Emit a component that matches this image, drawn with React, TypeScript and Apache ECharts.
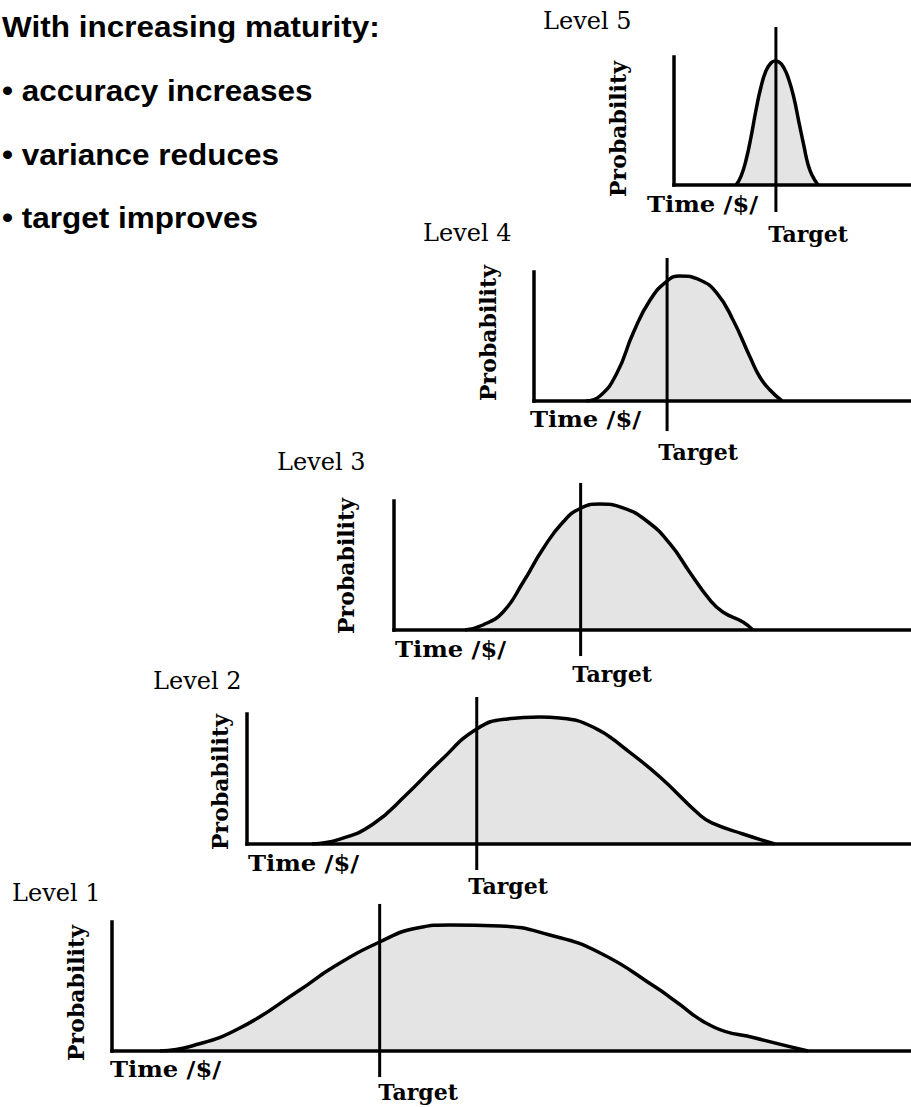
import React, { useEffect, useRef } from 'react';
import * as echarts from 'echarts';

// ---- DATA (x: time, 0-100 of each panel's axis; y: probability, 0-100 of axis height) ----
const levelNames = ['Level 1', 'Level 2', 'Level 3', 'Level 4', 'Level 5'];

const level1Time = [6.0, 10.0, 16.0, 23.5, 27.7, 33.5, 38.2, 42.3, 48.6, 54.8, 61.1, 68.2, 70.3, 75.3, 80.5, 87.1];
const level1Prob = [0, 3.9, 17.8, 47.3, 65.1, 84.5, 95.3, 97.7, 96.9, 89.9, 76.0, 48.8, 39.5, 18.6, 10.1, 0];

const level2Time = [9.8, 14.0, 19.0, 24.1, 29.1, 34.6, 39.2, 44.1, 47.1, 52.1, 57.2, 62.2, 68.2, 70.0, 74.7, 79.5];
const level2Prob = [0, 3.8, 15.4, 38.5, 63.8, 88.5, 96.2, 97.7, 96.9, 90.0, 72.3, 51.5, 22.3, 16.2, 7.7, 0];

const level3Time = [13.7, 17.2, 21.1, 25.0, 28.8, 32.7, 36.2, 39.8, 44.3, 48.9, 53.4, 57.3, 61.1, 63.6, 67.5, 69.4];
const level3Prob = [0, 3.9, 14.0, 37.2, 62.8, 83.7, 94.6, 97.7, 94.6, 84.5, 66.7, 44.2, 23.3, 14.0, 6.2, 0];

const level4Time = [13.8, 17.5, 22.0, 26.3, 30.8, 35.3, 38.7, 44.0, 48.5, 52.8, 57.3, 59.9, 62.6, 65.8];
const level4Prob = [0, 3.9, 21.7, 52.7, 78.3, 93.0, 96.9, 93.8, 83.7, 62.8, 34.1, 18.6, 8.5, 0];

const level5Time = [26.2, 28.3, 30.4, 32.5, 34.6, 36.7, 38.8, 40.9, 42.6, 44.3, 46.4, 48.5, 50.6, 52.7, 54.9, 56.5, 58.2, 60.8];
const level5Prob = [0, 7.0, 19.5, 37.5, 58.6, 76.6, 89.1, 95.3, 96.9, 96.1, 91.4, 82.0, 68.0, 49.2, 29.7, 16.4, 7.8, 0];

const targetTime = [33.5, 34.6, 36.1, 35.3, 43.0];
const targetLineLow = [-20.2, -20.0, -20.2, -23.3, -21.1];
const targetLineHigh = [114.0, 113.1, 114.0, 110.9, 123.4];

const headingLines = ['With increasing maturity:', '\u2022 accuracy increases', '\u2022 variance reduces', '\u2022 target improves'];
const yAxisLabel = 'Probability';
const xAxisLabel = 'Time /$/';
const targetLabel = 'Target';

const timeSeries = [level1Time, level2Time, level3Time, level4Time, level5Time];
const probSeries = [level1Prob, level2Prob, level3Prob, level4Prob, level5Prob];

// ---- LAYOUT (pixels) ----
const W = 911;
const H = 1107;
const panels = [
  { left: 112, top: 922, axisY: 1051, levelX: 12, levelY: 893, probX: 76, probY: 993, timeX: 110, timeY: 1069, targetX: 418, targetY: 1092 },
  { left: 247, top: 714, axisY: 844, levelX: 153, levelY: 681, probX: 220, probY: 782, timeX: 248, timeY: 863, targetX: 508, targetY: 886 },
  { left: 394, top: 501, axisY: 630, levelX: 277, levelY: 462, probX: 346, probY: 566, timeX: 395, timeY: 649, targetX: 612, targetY: 674 },
  { left: 534, top: 272, axisY: 401, levelX: 423, levelY: 233, probX: 488, probY: 333, timeX: 530, timeY: 419, targetX: 698, targetY: 452 },
  { left: 674, top: 57, axisY: 185, levelX: 543, levelY: 21, probX: 618, probY: 129, timeX: 647, timeY: 204, targetX: 808, targetY: 234 },
];
const headingX = 2;
const headingYs = [27, 91, 155, 218];

const SERIF = "'DejaVu Serif', serif";
const SANS = "'Liberation Sans', Arial, sans-serif";

export default function App() {
  const ref = useRef<HTMLDivElement>(null);

  useEffect(() => {
    document.body.style.margin = '0';
    if (!ref.current) return;
    const chart = echarts.init(ref.current, undefined, { renderer: 'svg' });

    const grid: any[] = [];
    const xAxis: any[] = [];
    const yAxis: any[] = [];
    const series: any[] = [];
    const graphic: any[] = [];

    const axisCommon = {
      type: 'value',
      min: 0,
      max: 100,
      axisTick: { show: false },
      axisLabel: { show: false },
      splitLine: { show: false },
      z: 5,
    };

    panels.forEach((p, i) => {
      grid.push({ left: p.left, top: p.top, right: 0, bottom: H - p.axisY, containLabel: false });
      xAxis.push({
        ...axisCommon,
        gridIndex: i,
        axisLine: { show: true, onZero: false, lineStyle: { color: '#000', width: 3.5, cap: 'square' } },
      });
      yAxis.push({
        ...axisCommon,
        gridIndex: i,
        axisLine: { show: true, onZero: false, lineStyle: { color: '#000', width: 3.5, cap: 'square' } },
      });
      series.push({
        type: 'line',
        name: levelNames[i],
        xAxisIndex: i,
        yAxisIndex: i,
        data: timeSeries[i].map((t, k) => [t, probSeries[i][k]]),
        smooth: 0.5,
        symbol: 'none',
        silent: true,
        lineStyle: { color: '#000', width: 3.5, join: 'round' },
        areaStyle: { color: '#e4e4e4', opacity: 1 },
        z: 3,
      });
      series.push({
        type: 'line',
        name: levelNames[i] + ' target',
        xAxisIndex: i,
        yAxisIndex: i,
        data: [
          [targetTime[i], targetLineLow[i]],
          [targetTime[i], targetLineHigh[i]],
        ],
        clip: false,
        symbol: 'none',
        silent: true,
        lineStyle: { color: '#000', width: 3 },
        z: 6,
      });

      graphic.push({
        type: 'text',
        x: p.levelX,
        y: p.levelY,
        style: { text: levelNames[i], fontFamily: SERIF, fontSize: 24, fill: '#000', align: 'left', verticalAlign: 'middle' },
      });
      graphic.push({
        type: 'text',
        x: p.probX,
        y: p.probY,
        rotation: Math.PI / 2,
        style: { text: yAxisLabel, fontFamily: SERIF, fontWeight: 'bold', fontSize: 22, fill: '#000', align: 'center', verticalAlign: 'middle' },
      });
      graphic.push({
        type: 'text',
        x: p.timeX,
        y: p.timeY,
        scaleX: 1.1,
        style: { text: xAxisLabel, fontFamily: SERIF, fontWeight: 'bold', fontSize: 22, fill: '#000', align: 'left', verticalAlign: 'middle' },
      });
      graphic.push({
        type: 'text',
        x: p.targetX,
        y: p.targetY,
        style: { text: targetLabel, fontFamily: SERIF, fontWeight: 'bold', fontSize: 22, fill: '#000', align: 'center', verticalAlign: 'middle' },
      });
    });

    headingLines.forEach((line, i) => {
      graphic.push({
        type: 'text',
        x: headingX,
        y: headingYs[i],
        scaleX: 1.05,
        style: { text: line, fontFamily: SANS, fontWeight: 'bold', fontSize: 30, fill: '#000', align: 'left', verticalAlign: 'middle' },
      });
    });

    chart.setOption({
      animation: false,
      backgroundColor: '#fff',
      grid,
      xAxis,
      yAxis,
      series,
      graphic: { elements: graphic },
    });

    return () => chart.dispose();
  }, []);

  return <div ref={ref} style={{ width: W, height: H }} />;
}
